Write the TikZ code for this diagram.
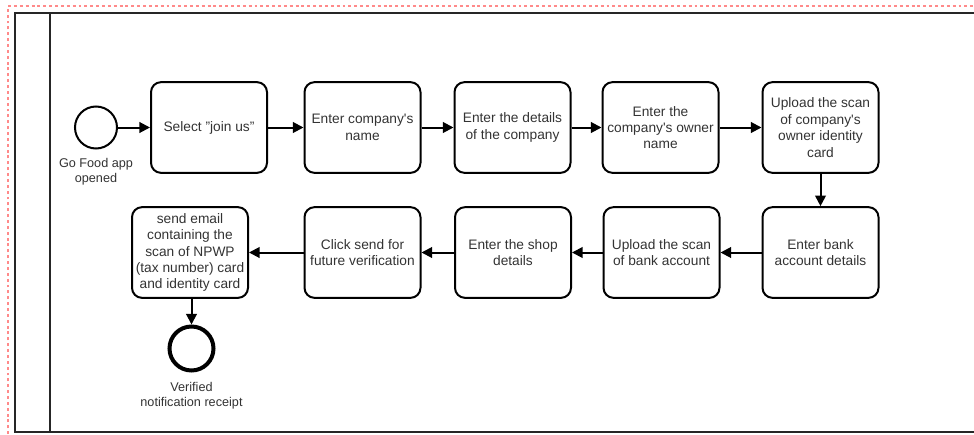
\documentclass[tikz,border=0pt]{standalone}
\usepackage{fontspec}
\setmainfont[Ligatures=NoCommon]{Liberation Sans}
\usetikzlibrary{arrows.meta}
\definecolor{txt}{HTML}{333333}
\definecolor{pinkd}{HTML}{FF8A8A}
\newcommand{\sq}{\textquotesingle}
\newcommand{\dq}{\symbol{34}}
\begin{document}
\begin{tikzpicture}[x=0.75pt,y=-0.75pt,
  task/.style={draw=black,line width=1.5pt,rounded corners=7.5pt,minimum width=87pt,minimum height=68pt,
    align=center,font=\fontsize{10.3pt}{12.3pt}\selectfont,text=txt,inner sep=1pt},
  ev/.style={draw=black,circle,line width=1.5pt,minimum size=31.5pt,inner sep=0pt},
  evend/.style={draw=black,circle,line width=3pt,minimum size=33pt,inner sep=0pt},
  lbl/.style={align=center,font=\fontsize{9.5pt}{11pt}\selectfont,text=txt,inner sep=0pt},
  flow/.style={line width=1.5pt,-{Triangle[length=8pt,width=8pt]}}]
\useasboundingbox (0,0) rectangle (974,435);
% pink dashed outer frame
\draw[pinkd,line width=1.4pt,dash pattern=on 2.2pt off 2.2pt] (8,440) -- (8,6) -- (980,6);
% pool
\draw[black!85,line width=1.5pt] (980,13) -- (15,13) -- (15,432) -- (980,432);
\draw[black!85,line width=1.5pt] (50,13) -- (50,432);
% events
\node[ev] (start) at (96,127.5) {};
\node[lbl,anchor=north] (startl) at (96,158) {Go Food app\\opened};
% top row
\node[task] (b1) at (209,127.5) {Select \dq join us\dq};
\node[task] (b2) at (362.5,127.5) {Enter company\sq s\\name};
\node[task] (b3) at (512.5,127.5) {Enter the details\\of the company};
\node[task] (b4) at (660.5,127.5) {Enter the\\company\sq s owner\\name};
\node[task] (b5) at (820.5,127.5) {Upload the scan\\of company\sq s\\owner identity\\card};
% bottom row
\node[task] (b6) at (820.5,252.5) {Enter bank\\account details};
\node[task] (b7) at (661.5,252.5) {Upload the scan\\of bank account};
\node[task] (b8) at (513,252.5) {Enter the shop\\details};
\node[task] (b9) at (362.5,252.5) {Click send for\\future verification};
\node[task] (b10) at (190,252.5) {send email\\containing the\\scan of NPWP\\(tax number) card\\and identity card};
\node[evend] (end) at (191.5,348.5) {};
\node[lbl,anchor=north] (endl) at (191.5,382) {Verified\\notification receipt};
% flows
\draw[flow] (start) -- (b1);
\draw[flow] (b1) -- (b2);
\draw[flow] (b2) -- (b3);
\draw[flow] (b3) -- (b4);
\draw[flow] (b4) -- (b5);
\draw[flow] (b5) -- (b6);
\draw[flow] (b6) -- (b7);
\draw[flow] (b7) -- (b8);
\draw[flow] (b8) -- (b9);
\draw[flow] (b9) -- (b10);
\draw[flow] (b10.south -| end) -- (end);
\end{tikzpicture}
\end{document}
